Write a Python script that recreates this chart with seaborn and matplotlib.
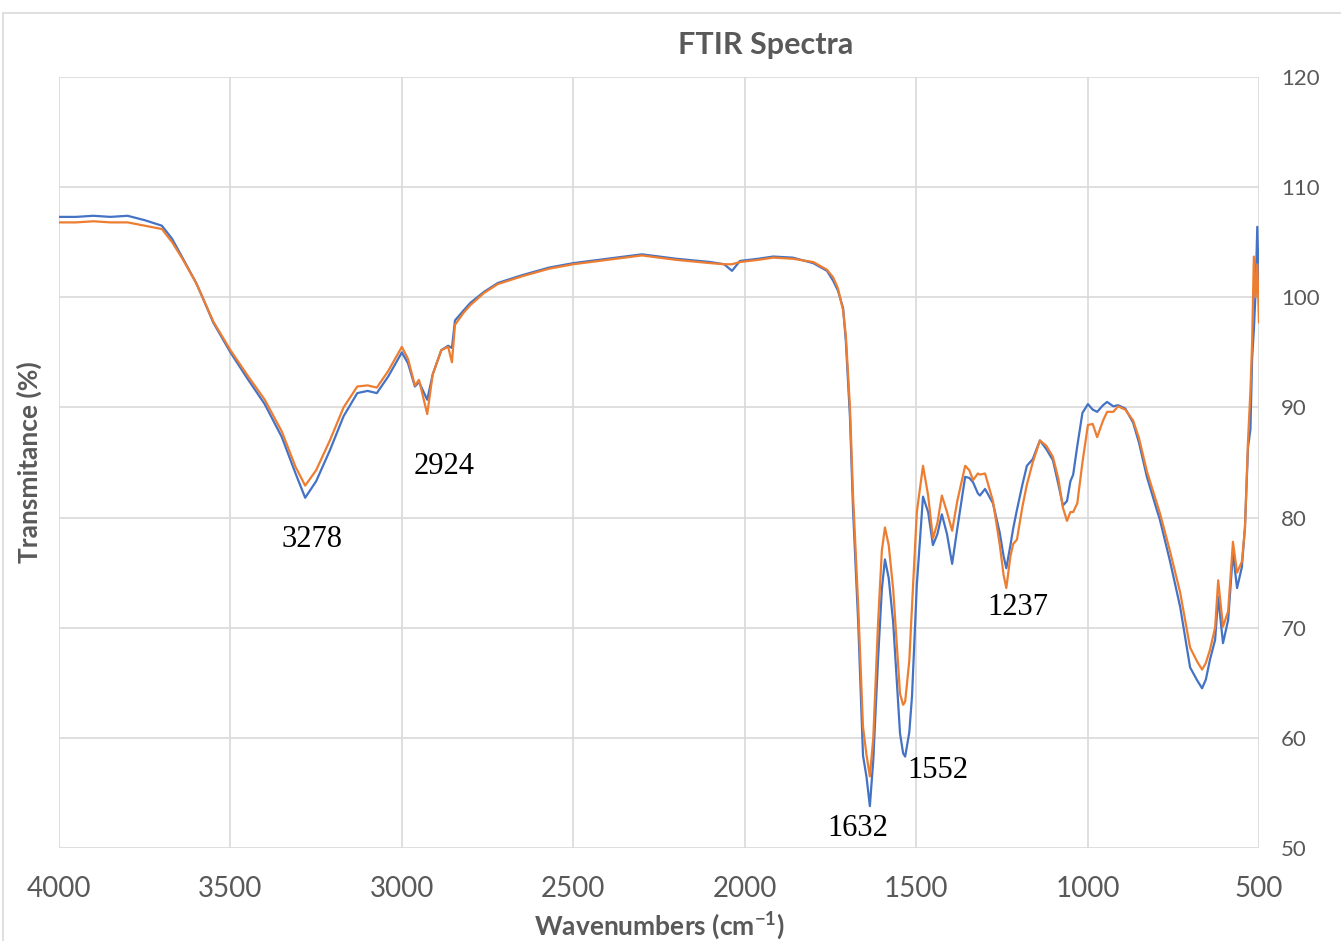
import matplotlib
matplotlib.use("Agg")
import matplotlib.pyplot as plt
import seaborn as sns
import pandas as pd
from matplotlib.patches import Rectangle

# ---------------- data ----------------
wavenumbers = [4000, 3950, 3900, 3850, 3800, 3750, 3700, 3670, 3640, 3600, 3580, 3550,
               3500, 3450, 3400, 3350, 3310, 3282, 3250, 3210, 3170, 3130, 3100, 3073,
               3040, 3000, 2982, 2962, 2950, 2926, 2910, 2885, 2865, 2854, 2845, 2820,
               2800, 2760, 2720, 2650, 2570, 2500, 2400, 2300, 2200, 2100, 2060, 2037,
               2014, 1960, 1917, 1860, 1800, 1760, 1742, 1728, 1713, 1705, 1693, 1684,
               1669, 1655, 1645, 1635, 1625, 1611, 1600, 1591, 1580, 1567, 1547, 1538,
               1532, 1520, 1512, 1498, 1480, 1465, 1451, 1438, 1425, 1410, 1395, 1380,
               1357, 1345, 1334, 1320, 1314, 1299, 1285, 1276, 1256, 1245, 1237, 1225,
               1217, 1206, 1190, 1177, 1160, 1139, 1120, 1101, 1085, 1072, 1060, 1050,
               1042, 1030, 1015, 999, 985, 972, 955, 943, 925, 911, 890, 867, 850, 827,
               800, 789, 760, 730, 701, 680, 666, 655, 643, 628, 619, 605, 590, 576, 564,
               550, 541, 532, 525, 520, 515, 510, 505, 500]

sample_blue = [107.3, 107.3, 107.4, 107.3, 107.4, 107.0, 106.5, 105.3, 103.6, 101.3, 99.9, 97.7,
               95.0, 92.6, 90.3, 87.3, 84.0, 81.8, 83.3, 86.1, 89.2, 91.3, 91.5, 91.3,
               92.8, 95.0, 94.0, 91.9, 92.3, 90.7, 93.0, 95.2, 95.6, 95.4, 97.9, 98.8,
               99.5, 100.5, 101.3, 102.0, 102.7, 103.1, 103.5, 103.9, 103.5, 103.2, 103.0, 102.4,
               103.3, 103.5, 103.7, 103.6, 103.1, 102.4, 101.5, 100.6, 99.0, 96.0, 89.1, 80.7,
               70.5, 58.4, 56.5, 53.8, 58.0, 67.2, 73.5, 76.2, 74.5, 70.5, 60.4, 58.6,
               58.3, 60.5, 63.8, 73.9, 81.9, 80.5, 77.5, 78.5, 80.3, 78.5, 75.8, 79.0,
               83.7, 83.6, 83.2, 82.2, 82.0, 82.6, 81.8, 81.3, 78.6, 76.5, 75.4, 77.5,
               79.0, 80.7, 83.0, 84.7, 85.3, 87.0, 86.2, 85.2, 83.0, 81.1, 81.5, 83.3,
               83.9, 86.5, 89.5, 90.3, 89.8, 89.6, 90.2, 90.5, 90.1, 90.2, 89.9, 88.6, 86.8, 83.7,
               80.9, 79.8, 76.1, 71.9, 66.4, 65.2, 64.5, 65.3, 67.1, 68.9, 72.8, 68.6, 70.7, 76.8, 73.6,
               75.5, 79.1, 86.4, 88.0, 94.5, 97.0, 100.5, 106.4, 100.4]

sample_orange = [106.8, 106.8, 106.9, 106.8, 106.8, 106.5, 106.2, 105.0, 103.5, 101.3, 99.9, 97.8,
                 95.2, 92.9, 90.7, 87.8, 84.6, 82.9, 84.3, 87.0, 90.0, 91.9, 92.0, 91.8,
                 93.3, 95.5, 94.4, 92.0, 92.5, 89.4, 93.0, 95.2, 95.5, 94.1, 97.5, 98.6,
                 99.3, 100.4, 101.2, 101.9, 102.6, 103.0, 103.4, 103.8, 103.4, 103.1, 103.0, 103.0,
                 103.2, 103.4, 103.6, 103.5, 103.2, 102.5, 101.8, 100.8, 98.8, 96.5, 90.0, 82.0,
                 72.0, 61.0, 58.5, 56.5, 60.0, 70.5, 77.0, 79.1, 77.5, 73.5, 64.0, 63.0,
                 63.3, 67.0, 72.0, 80.5, 84.7, 82.0, 78.1, 79.5, 82.0, 80.5, 78.8, 81.5,
                 84.7, 84.3, 83.4, 84.0, 83.9, 84.0, 82.5, 81.5, 77.5, 74.8, 73.6, 76.5,
                 77.6, 78.0, 81.0, 83.0, 85.0, 87.0, 86.5, 85.5, 83.5, 80.9, 79.7, 80.5,
                 80.5, 81.3, 85.0, 88.4, 88.5, 87.3, 88.8, 89.6, 89.6, 90.1, 89.8, 88.8, 87.2, 84.2,
                 81.5, 80.4, 77.0, 73.2, 68.2, 66.9, 66.2, 66.8, 68.0, 70.0, 74.3, 70.1, 71.5, 77.8, 75.0,
                 76.0, 79.0, 87.0, 91.5, 96.0, 103.7, 100.0, 103.0, 97.7]

peak_labels = ["3278", "2924", "1632", "1552", "1237"]
peak_label_x = [3262, 2877, 1670, 1436, 1203]
peak_label_y = [78.0, 84.6, 51.8, 57.0, 71.8]

x_ticks = [4000, 3500, 3000, 2500, 2000, 1500, 1000, 500]
y_ticks = [50, 60, 70, 80, 90, 100, 110, 120]

series_names = ["Sample A", "Sample B"]
series_colors = ["#4472C4", "#ED7D31"]

# ---------------- build long-form table ----------------
df = pd.concat([
    pd.DataFrame({"wn": wavenumbers, "T": sample_blue, "series": series_names[0]}),
    pd.DataFrame({"wn": wavenumbers, "T": sample_orange, "series": series_names[1]}),
], ignore_index=True)

# ---------------- style ----------------
sns.set_style("white")
plt.rcParams["font.family"] = ["Lato", "DejaVu Sans"]
plt.rcParams["mathtext.fontset"] = "custom"
plt.rcParams["mathtext.rm"] = "Lato:bold"
plt.rcParams["mathtext.bf"] = "Lato:bold"
plt.rcParams["mathtext.default"] = "bf"
GRAY = "#595959"
GRID = "#d9d9d9"

W, H = 1341, 941
fig = plt.figure(figsize=(W / 100, H / 100), dpi=100)
ax = fig.add_axes([59 / W, (H - 848) / H, 1200 / W, 771 / H])

sns.lineplot(data=df, x="wn", y="T", hue="series", palette=series_colors,
             estimator=None, sort=False, linewidth=1.6, legend=False, ax=ax)

ax.set_xlim(4000, 500)
ax.set_ylim(50, 120)
ax.set_xticks(x_ticks)
ax.set_yticks(y_ticks)
ax.xaxis.grid(True, color=GRID, linewidth=1.2)
ax.yaxis.grid(True, color=GRID, linewidth=1.2)
ax.set_axisbelow(True)
for s in ax.spines.values():
    s.set_visible(False)

ax.yaxis.tick_right()
ax.yaxis.set_label_position("left")
ax.tick_params(axis="x", length=0, pad=20, labelsize=20, labelcolor=GRAY)
ax.tick_params(axis="y", length=0, pad=16, labelsize=16, labelcolor=GRAY)

ax.set_xlabel("Wavenumbers (cm$^{-1}$)", fontsize=19, fontweight="bold", color=GRAY, labelpad=6)
ax.set_ylabel("Transmitance (%)", fontsize=19, fontweight="bold", color=GRAY, labelpad=12)
fig.text(766 / W, (H - 45) / H, "FTIR Spectra", fontsize=22, fontweight="bold",
         color=GRAY, ha="center", va="center")

for lab, lx, ly in zip(peak_labels, peak_label_x, peak_label_y):
    ax.text(lx, ly, lab, fontsize=22, family="Liberation Serif", color="black",
            ha="center", va="center")

# outer chart border
fig.patches.append(Rectangle((3 / W, -0.01), 1.0, (H - 13) / H + 0.01,
                             transform=fig.transFigure, fill=False,
                             edgecolor=GRID, linewidth=1.2))

fig.savefig("out.png", dpi=100, facecolor="white")
